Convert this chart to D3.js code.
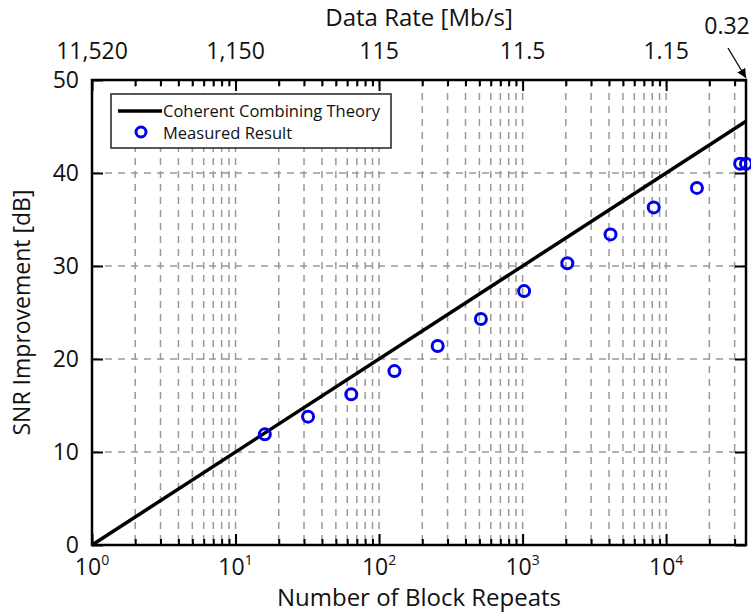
<!DOCTYPE html>
<html>
<head>
<meta charset="utf-8">
<script src="https://cdn.jsdelivr.net/npm/d3@7"></script>
<style>
body{margin:0;background:#fff;}
svg text{font-family:"Open Sans",sans-serif;fill:#111;}
</style>
</head>
<body>
<div id="chart"></div>
<script>
// data
const repeats = [16,32,64,128,256,512,1024,2048,4096,8192,16384,32768,36000];
const snrMeasured = [11.9,13.8,16.2,18.7,21.4,24.3,27.3,30.3,33.4,36.3,38.4,41.0,41.0];
const theoryN = [1,36000];
const yTicks = [0,10,20,30,40,50];
const topTickN = [1,10,100,1000,10000];
const topTickLabels = ["11,520","1,150","115","11.5","1.15"];
const bottomTickExp = [0,1,2,3,4];

const W=751,H=613;
const m={left:92,right:5,top:80,bottom:68};
const iw=W-m.left-m.right, ih=H-m.top-m.bottom;

const svg=d3.select("#chart").append("svg").attr("width",W).attr("height",H);
const g=svg.append("g").attr("transform",`translate(${m.left},${m.top})`);

const x=d3.scaleLog().domain([1,36000]).range([0,iw]);
const y=d3.scaleLinear().domain([0,50]).range([ih,0]);

// all log ticks inside range
let logTicks=[];
for(let d=1;d<=10000;d*=10){
    for(let k=1;k<10;k++){ if(d*k<=36000) logTicks.push(d*k); }
}
const majors=new Set(topTickN);

// grid
const grid=g.append("g").attr("stroke","#999").attr("stroke-width",1.5).attr("stroke-dasharray","7,6");
grid.selectAll(".vg").data(logTicks.filter(d=>d>1)).enter().append("line")
    .attr("x1",d=>x(d)).attr("x2",d=>x(d)).attr("y1",0).attr("y2",ih);
grid.selectAll(".hg").data(yTicks.filter(d=>d>0&&d<50)).enter().append("line")
    .attr("x1",0).attr("x2",iw).attr("y1",d=>y(d)).attr("y2",d=>y(d));

// bottom axis
g.append("g").attr("transform",`translate(0,${ih})`)
 .call(d3.axisBottom(x).tickValues(logTicks).tickSizeInner(-1).tickSizeOuter(0).tickFormat(""))
 .call(a=>a.select(".domain").remove())
 .call(a=>a.selectAll(".tick line").attr("y2",d=>majors.has(d)?-11:-6).attr("stroke","#000").attr("stroke-width",2));
const bl=g.append("g").attr("transform",`translate(0,${ih})`);
bottomTickExp.forEach(e=>{
    const t=bl.append("text").attr("x",x(Math.pow(10,e))).attr("y",30).attr("text-anchor","middle").attr("font-size",23);
    t.append("tspan").text("10");
    t.append("tspan").attr("dy",-10).attr("font-size",14).text(e);
});

// top axis
g.append("g")
 .call(d3.axisTop(x).tickValues(logTicks).tickSizeInner(-1).tickSizeOuter(0).tickFormat(""))
 .call(a=>a.select(".domain").remove())
 .call(a=>a.selectAll(".tick line").attr("y2",d=>majors.has(d)?11:6).attr("stroke","#000").attr("stroke-width",2));
g.selectAll(".toplab").data(topTickN).enter().append("text")
 .attr("x",d=>x(d)).attr("y",-21).attr("text-anchor","middle").attr("font-size",23)
 .text((d,i)=>topTickLabels[i]);
g.append("text").attr("x",iw-19).attr("y",-46).attr("text-anchor","middle").attr("font-size",23).text("0.32");
svg.append("defs").append("marker").attr("id","arr").attr("viewBox","0 0 10 10").attr("refX",10).attr("refY",5)
 .attr("markerWidth",7).attr("markerHeight",7).attr("orient","auto")
 .append("path").attr("d","M0,0L10,5L0,10z").attr("fill","#000");
g.append("line").attr("x1",iw-18).attr("y1",-32).attr("x2",iw).attr("y2",-2)
 .attr("stroke","#000").attr("stroke-width",1.3).attr("marker-end","url(#arr)");

// left axis
g.append("g")
 .call(d3.axisLeft(y).tickValues(yTicks).tickSizeInner(-11).tickSizeOuter(0).tickPadding(13).tickFormat(d3.format("d")))
 .call(a=>a.select(".domain").remove())
 .call(a=>a.selectAll(".tick line").attr("stroke","#000").attr("stroke-width",2))
 .call(a=>a.selectAll(".tick text").attr("font-size",23).attr("font-family","Open Sans").attr("fill","#111"));
// right axis ticks
g.append("g").attr("transform",`translate(${iw},0)`)
 .call(d3.axisRight(y).tickValues(yTicks).tickSizeInner(-11).tickSizeOuter(0).tickFormat(""))
 .call(a=>a.select(".domain").remove())
 .call(a=>a.selectAll(".tick line").attr("stroke","#000").attr("stroke-width",2));

// frame
g.append("rect").attr("width",iw).attr("height",ih).attr("fill","none").attr("stroke","#000").attr("stroke-width",2.5);

// theory line
const line=d3.line().x(d=>x(d)).y(d=>y(10*Math.log10(d)));
g.append("path").datum(theoryN).attr("d",line).attr("fill","none").attr("stroke","#000").attr("stroke-width",3.5);

// measured points
g.selectAll(".pt").data(repeats).enter().append("circle")
 .attr("cx",d=>x(d)).attr("cy",(d,i)=>y(snrMeasured[i])).attr("r",5.5)
 .attr("fill","none").attr("stroke","#0000ee").attr("stroke-width",3);

// legend
const lg=g.append("g").attr("transform","translate(19,14)");
lg.append("rect").attr("width",280).attr("height",54).attr("fill","#fff").attr("stroke","#222").attr("stroke-width",1.5);
lg.append("line").attr("x1",7).attr("x2",51).attr("y1",17).attr("y2",17).attr("stroke","#000").attr("stroke-width",3.5);
lg.append("text").attr("x",52).attr("y",22.5).attr("font-size",16.5).text("Coherent Combining Theory");
lg.append("circle").attr("cx",30).attr("cy",38).attr("r",5).attr("fill","none").attr("stroke","#0000ee").attr("stroke-width",3);
lg.append("text").attr("x",52).attr("y",44.5).attr("font-size",16.5).text("Measured Result");

// axis titles
svg.append("text").attr("x",m.left+iw/2).attr("y",606).attr("text-anchor","middle").attr("font-size",24).text("Number of Block Repeats");
svg.append("text").attr("x",m.left+iw/2).attr("y",26).attr("text-anchor","middle").attr("font-size",24).text("Data Rate [Mb/s]");
svg.append("text").attr("transform",`translate(30,${m.top+ih/2}) rotate(-90)`).attr("text-anchor","middle").attr("font-size",23).text("SNR Improvement [dB]");
</script>
</body>
</html>
